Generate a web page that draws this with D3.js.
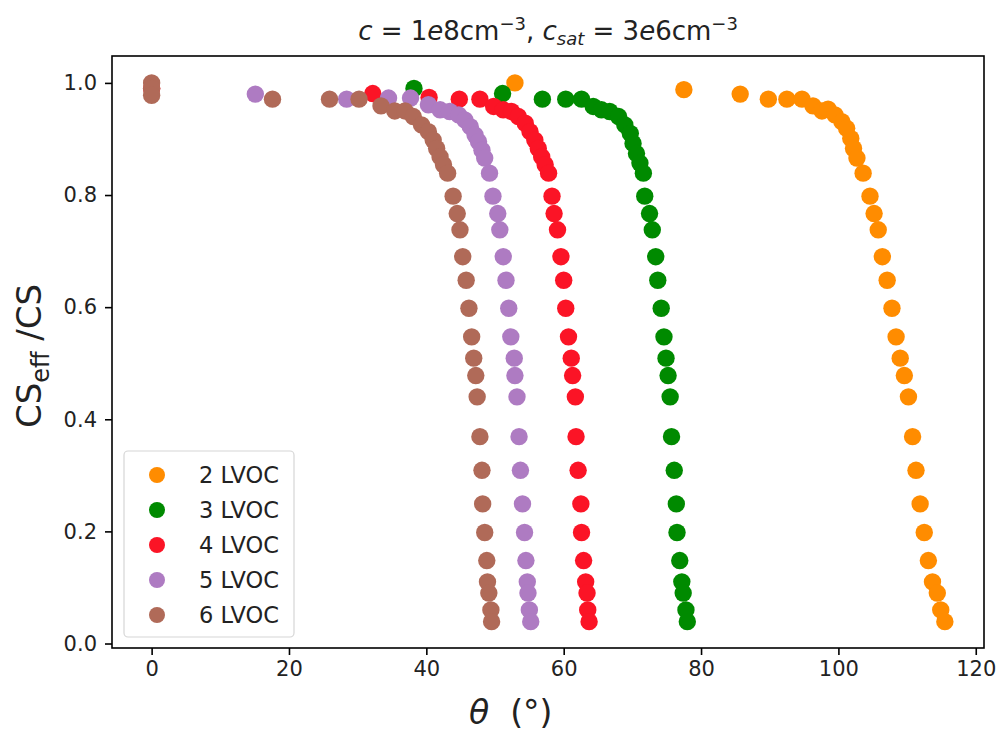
<!DOCTYPE html>
<html>
<head>
<meta charset="utf-8">
<script src="https://cdn.jsdelivr.net/npm/d3@7"></script>
<style>
  html, body { margin: 0; padding: 0; background: #fff; }
  svg { display: block; font-family: "DejaVu Sans", sans-serif; }
</style>
</head>
<body>
<svg id="chart" width="999" height="732"></svg>
<script>
// ---------------- DATA ----------------
const seriesNames = ["2 LVOC", "3 LVOC", "4 LVOC", "5 LVOC", "6 LVOC"];
const seriesColors = ["#ff8c00", "#008a00", "#fb1426", "#ae7bc2", "#b06a58"];

const theta2 = [52.9, 77.5, 85.7, 89.8, 92.5, 94.7, 96.3, 97.6, 98.5, 99.5, 100.5, 101.2, 101.8, 102.2, 102.7, 103.6,
  104.6, 105.2, 105.8, 106.4, 107.1, 107.8, 108.4, 109.0, 109.6, 110.2,
  110.8, 111.3, 111.9, 112.5, 113.1, 113.7, 114.4, 114.9, 115.5];
const cs2 = [1.0, 0.988, 0.980, 0.971, 0.971, 0.971, 0.959, 0.950, 0.953, 0.943, 0.931, 0.919, 0.901, 0.883, 0.866, 0.839,
  0.798, 0.767, 0.738, 0.690, 0.648, 0.598, 0.547, 0.509, 0.478, 0.440,
  0.369, 0.309, 0.249, 0.198, 0.148, 0.110, 0.090, 0.060, 0.039];

const theta3 = [38.2, 51.1, 56.9, 60.3, 62.6, 64.3, 65.5, 66.7, 68.0, 68.9, 69.7, 70.1, 70.6, 71.1, 71.6,
  71.8, 72.5, 72.9, 73.4, 73.7, 74.2, 74.6, 74.9, 75.2, 75.5,
  75.7, 76.1, 76.4, 76.5, 76.9, 77.2, 77.4, 77.8, 78.0];
const cs3 = [0.990, 0.981, 0.971, 0.971, 0.971, 0.958, 0.952, 0.949, 0.940, 0.925, 0.910, 0.892, 0.874, 0.857, 0.839,
  0.798, 0.767, 0.738, 0.690, 0.648, 0.598, 0.547, 0.509, 0.478, 0.440,
  0.369, 0.309, 0.249, 0.198, 0.148, 0.110, 0.090, 0.060, 0.039];

const theta4 = [0, 32.2, 40.4, 44.8, 47.8, 49.8, 51.2, 52.4, 53.4, 54.4, 55.1, 55.8, 56.3, 56.8, 57.3, 57.8,
  58.3, 58.6, 59.1, 59.6, 60.0, 60.3, 60.7, 61.1, 61.3, 61.7,
  61.8, 62.1, 62.5, 62.6, 62.9, 63.2, 63.4, 63.5, 63.7];
const cs4 = [0.99, 0.981, 0.974, 0.971, 0.971, 0.958, 0.952, 0.949, 0.940, 0.928, 0.913, 0.898, 0.883, 0.868, 0.854, 0.839,
  0.798, 0.767, 0.738, 0.690, 0.648, 0.598, 0.547, 0.509, 0.478, 0.440,
  0.369, 0.309, 0.249, 0.198, 0.148, 0.110, 0.090, 0.060, 0.039];

const theta5 = [15.1, 28.4, 34.5, 37.7, 40.3, 42.0, 43.4, 44.7, 45.6, 46.4, 47.1, 47.6, 48.1, 48.5, 49.2,
  49.7, 50.4, 50.7, 51.2, 51.6, 52.0, 52.3, 52.8, 52.9, 53.2,
  53.5, 53.7, 54.0, 54.3, 54.5, 54.7, 54.8, 55.0, 55.2];
const cs5 = [0.980, 0.971, 0.973, 0.973, 0.961, 0.952, 0.949, 0.943, 0.934, 0.922, 0.907, 0.895, 0.880, 0.866, 0.839,
  0.798, 0.767, 0.738, 0.690, 0.648, 0.598, 0.547, 0.509, 0.478, 0.440,
  0.369, 0.309, 0.249, 0.198, 0.148, 0.110, 0.090, 0.060, 0.039];

const theta6 = [0, 0, 0, 17.6, 25.9, 30.2, 33.4, 35.4, 36.9, 38.1, 39.3, 40.3, 41.0, 41.5, 42.0, 42.5, 43.1,
  43.9, 44.5, 44.9, 45.3, 45.8, 46.2, 46.6, 46.9, 47.2, 47.4,
  47.8, 48.1, 48.2, 48.5, 48.8, 48.9, 49.1, 49.4, 49.5];
const cs6 = [1.0, 0.99, 0.978, 0.971, 0.971, 0.971, 0.959, 0.950, 0.950, 0.940, 0.925, 0.913, 0.898, 0.883, 0.868, 0.854, 0.839,
  0.798, 0.767, 0.738, 0.690, 0.648, 0.598, 0.547, 0.509, 0.478, 0.440,
  0.369, 0.309, 0.249, 0.198, 0.148, 0.110, 0.090, 0.060, 0.039];

const xTicks = [0, 20, 40, 60, 80, 100, 120];
const yTicks = [0.0, 0.2, 0.4, 0.6, 0.8, 1.0];

const allTheta = [theta2, theta3, theta4, theta5, theta6];
const allCs = [cs2, cs3, cs4, cs5, cs6];

// ---------------- LAYOUT ----------------
const svg = d3.select("#chart");
const plot = { left: 112, right: 984, top: 56, bottom: 648 };

const x = d3.scaleLinear().domain([-5.77, 121.2]).range([plot.left, plot.right]);
const y = d3.scaleLinear().domain([-0.008, 1.048]).range([plot.bottom, plot.top]);

const tickFont = 21;

// axes
const xAxis = d3.axisBottom(x).tickValues(xTicks).tickFormat(d3.format("d")).tickSizeOuter(0).tickSize(7).tickPadding(6);
const yAxis = d3.axisLeft(y).tickValues(yTicks).tickFormat(d3.format(".1f")).tickSizeOuter(0).tickSize(7).tickPadding(8);

const gx = svg.append("g").attr("transform", `translate(0,${plot.bottom})`).call(xAxis);
const gy = svg.append("g").attr("transform", `translate(${plot.left},0)`).call(yAxis);
[gx, gy].forEach(g => {
  g.select(".domain").remove();
  g.selectAll(".tick line").attr("stroke", "#000").attr("stroke-width", 1.6);
  g.selectAll(".tick text").attr("fill", "#222").style("font-size", tickFont + "px").style("font-family", "DejaVu Sans");
});

// data points
const ser = svg.append("g");
allTheta.forEach((th, si) => {
  const pts = th.map((t, i) => ({ t, v: allCs[si][i] }));
  ser.append("g").selectAll("circle").data(pts).join("circle")
    .attr("cx", d => x(d.t)).attr("cy", d => y(d.v))
    .attr("r", 8.7).attr("fill", seriesColors[si]);
});

// frame
svg.append("rect")
  .attr("x", plot.left).attr("y", plot.top)
  .attr("width", plot.right - plot.left).attr("height", plot.bottom - plot.top)
  .attr("fill", "none").attr("stroke", "#000").attr("stroke-width", 1.6);

// legend
const lg = svg.append("g");
lg.append("rect").attr("x", 124).attr("y", 451).attr("width", 170).attr("height", 186)
  .attr("rx", 4).attr("fill", "#fff").attr("fill-opacity", 0.8)
  .attr("stroke", "#d6d6d6").attr("stroke-width", 1.2);
seriesNames.forEach((name, i) => {
  const cy = 475 + i * 35;
  lg.append("circle").attr("cx", 157).attr("cy", cy).attr("r", 8).attr("fill", seriesColors[i]);
  lg.append("text").attr("x", 199).attr("y", cy).attr("dy", "0.36em")
    .style("font-size", "22.5px").attr("fill", "#222").text(name);
});

// title (mathtext-like)
const title = svg.append("text").attr("x", (plot.left + plot.right) / 2).attr("y", 40)
  .attr("text-anchor", "middle").style("font-size", "26px").attr("fill", "#222");
title.append("tspan").style("font-style", "italic").text("c");
title.append("tspan").text(" = 1");
title.append("tspan").style("font-style", "italic").text("e");
title.append("tspan").text("8cm");
title.append("tspan").attr("dy", -10).style("font-size", "18px").text("−3");
title.append("tspan").attr("dy", 10).text(", ");
title.append("tspan").style("font-style", "italic").text("c");
title.append("tspan").attr("dy", 5).style("font-size", "18px").style("font-style", "italic").text("sat");
title.append("tspan").attr("dy", -5).text(" = 3");
title.append("tspan").style("font-style", "italic").text("e");
title.append("tspan").text("6cm");
title.append("tspan").attr("dy", -10).style("font-size", "18px").text("−3");

// x label
const xl = svg.append("text").attr("x", 469).attr("y", 724).attr("text-anchor", "start")
  .style("font-size", "33px").attr("fill", "#222");
xl.append("tspan").style("font-style", "italic").text("θ");
xl.append("tspan").attr("xml:space", "preserve").text("\u00a0\u00a0(°)");

// y label
const yl = svg.append("text").attr("transform", `translate(41,${(plot.top + plot.bottom) / 2 + 4}) rotate(-90)`)
  .attr("text-anchor", "middle").style("font-size", "34px").attr("fill", "#222");
yl.append("tspan").text("CS");
yl.append("tspan").attr("dy", 8).style("font-size", "24px").text("eff");
yl.append("tspan").attr("dy", -8).text(" /CS");
</script>
</body>
</html>
